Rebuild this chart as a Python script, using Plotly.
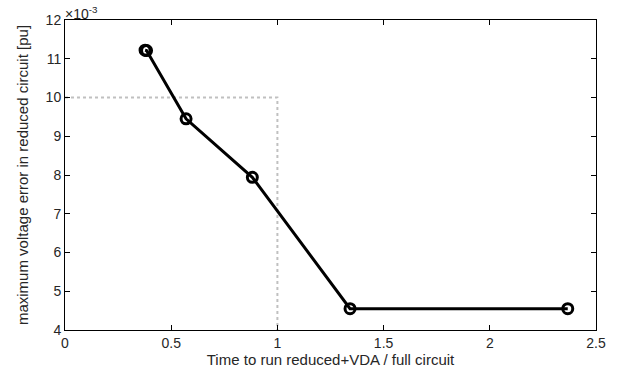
import plotly.graph_objects as go

# time ratio (reduced+VDA / full circuit)
time_ratio = [0.377, 0.384, 0.57, 0.882, 1.342, 2.367]
# maximum voltage error, in units of 1e-3 pu
max_error = [11.22, 11.21, 9.45, 7.94, 4.55, 4.55]

ref_x = [0, 1, 1]
ref_y = [10, 10, 4]

x_ticks = [0, 0.5, 1, 1.5, 2, 2.5]
x_tick_text = ["0", "0.5", "1", "1.5", "2", "2.5"]
y_ticks = [4, 5, 6, 7, 8, 9, 10, 11, 12]
y_tick_text = ["4", "5", "6", "7", "8", "9", "10", "11", "12"]

font = "Liberation Sans, Arial, Helvetica, sans-serif"

fig = go.Figure()
fig.add_trace(go.Scatter(
    x=ref_x, y=ref_y, mode="lines",
    line=dict(color="#c0c0c0", width=2, dash="dot"),
    hoverinfo="skip", showlegend=False))
fig.add_trace(go.Scatter(
    x=time_ratio, y=max_error, mode="lines+markers",
    line=dict(color="black", width=3),
    marker=dict(symbol="circle-open", size=10, color="black",
                line=dict(width=3, color="black")),
    showlegend=False))

axis_common = dict(
    showgrid=False, zeroline=False, showline=True, linecolor="black",
    linewidth=1, mirror="ticks", ticks="inside", ticklen=5, automargin=False,
    tickcolor="black", tickfont=dict(family=font, size=14, color="#262626"),
)

fig.update_layout(
    width=624, height=373,
    margin=dict(l=65, r=28, t=20, b=43),
    plot_bgcolor="white", paper_bgcolor="white",
    font=dict(family=font, size=14, color="#262626"),
    xaxis=dict(range=[0, 2.5], tickvals=x_ticks, ticktext=x_tick_text,
               title=dict(text="Time to run reduced+VDA / full circuit",
                          font=dict(size=15), standoff=2),
               **axis_common),
    yaxis=dict(range=[4, 12], tickvals=y_ticks, ticktext=y_tick_text,
               title=dict(text="maximum voltage error in reduced circuit [pu]",
                          font=dict(size=15), standoff=13),
               **axis_common),
    annotations=[dict(
        x=0, y=1, xref="paper", yref="paper", xanchor="left", yanchor="bottom",
        text="×10<sup>-3</sup>", showarrow=False, xshift=-2, yshift=-4,
        font=dict(family=font, size=14, color="#262626"))],
)

fig.write_html(
    "out.html",
    config={"displayModeBar": False},
    post_script="document.body.style.margin='0';document.body.style.overflow='hidden';",
)
